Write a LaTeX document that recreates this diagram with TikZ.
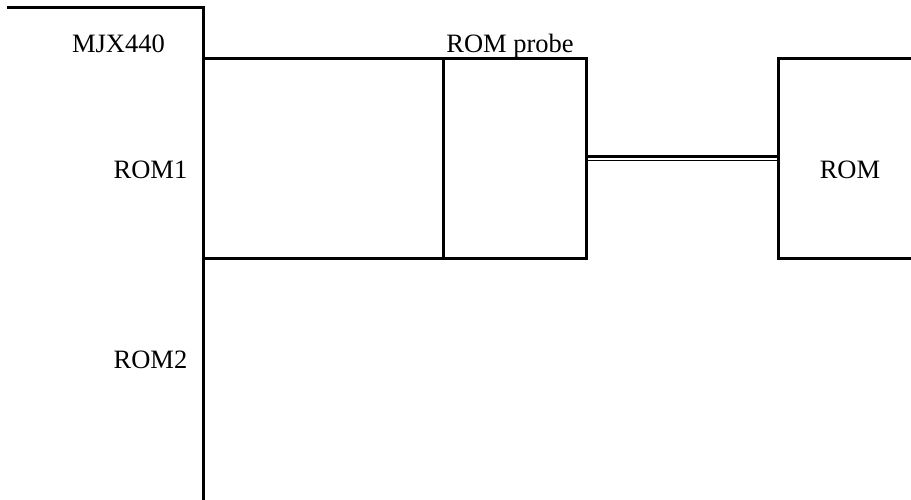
\documentclass[tikz,border=0pt]{standalone}
\usepackage{fontspec}
\setmainfont{Liberation Serif}
\begin{document}
\begin{tikzpicture}[x=1pt,y=-1pt,
  wire/.style={line width=3pt,line cap=rect},
  lbl/.style={font=\fontsize{26.5}{30}\selectfont,inner sep=0pt,anchor=base}]
\useasboundingbox (0,0) rectangle (911,499);
% coordinates
\coordinate (tl) at (8,7.5);
\coordinate (tc) at (203.5,7.5);
\coordinate (vb) at (203.5,499);
\coordinate (p1) at (203.5,58);
\coordinate (p2) at (443.5,58);
\coordinate (p3) at (586.5,58);
\coordinate (q1) at (203.5,258);
\coordinate (q2) at (443.5,258);
\coordinate (q3) at (586.5,258);
\coordinate (r1) at (911,58);
\coordinate (r2) at (778.5,58);
\coordinate (r3) at (778.5,258);
\coordinate (r4) at (911,258);
% MJX440 board edge
\draw[wire] (tl) -- (tc) -- (vb);
% ROM probe
\draw[wire] (p1) -- (p3) -- (q3) -- (q1);
\draw[wire] (p2) -- (q2);
% ROM
\draw[wire] (r1) -- (r2) -- (r3) -- (r4);
% cable
\draw[line width=3pt] (586.5,156.5) -- (778.5,156.5);
\draw[line width=1.5pt] (586.5,160.5) -- (778.5,160.5);
% labels
\node[lbl] (mjx) at (118.5,52.5) {MJX440};
\node[lbl] (probe) at (510,52) {ROM probe};
\node[lbl] (rom1) at (150.5,178) {ROM1};
\node[lbl] (rom2) at (150.5,368) {ROM2};
\node[lbl] (rom) at (850,178) {ROM};
\end{tikzpicture}
\end{document}
